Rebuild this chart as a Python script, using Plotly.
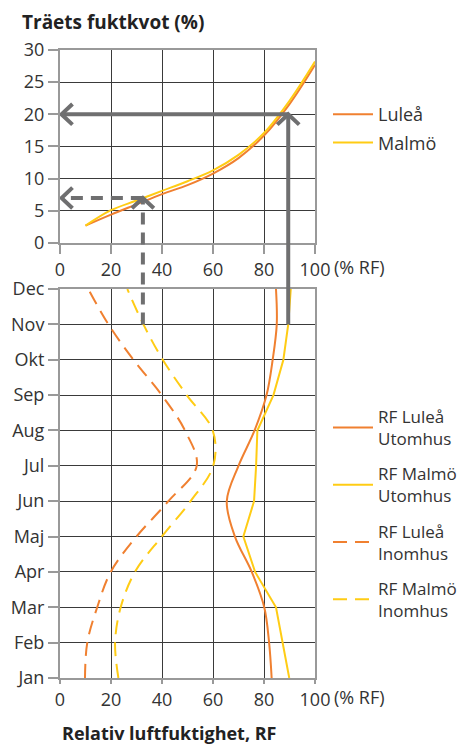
import plotly.graph_objects as go

# ---------------- data ----------------
rf_sorption = [10, 20, 30, 40, 50, 60, 70, 80, 90, 100]
mc_lulea = [2.7, 4.4, 6.0, 7.6, 9.0, 10.8, 13.2, 16.7, 21.6, 27.7]
mc_malmo = [2.7, 5.1, 6.6, 8.1, 9.6, 11.3, 13.7, 17.1, 22.1, 28.2]

months = ["Jan", "Feb", "Mar", "Apr", "Maj", "Jun", "Jul", "Aug", "Sep", "Okt", "Nov", "Dec"]
rf_lulea_ute = [83, 82, 80.1, 75.2, 68.6, 65.4, 70, 76.3, 81, 83.4, 85, 84.7]
rf_malmo_ute = [89.9, 87.3, 84.7, 76.5, 71.9, 76.1, 76.9, 77.4, 83.7, 87.6, 89.5, 90.5]
rf_lulea_inne = [9.8, 10.7, 14.6, 19.9, 30, 42.5, 53.6, 49, 39.9, 28.8, 19, 11.1]
rf_malmo_inne = [22.9, 21.6, 23.8, 29.4, 39.9, 51.2, 60.1, 59.9, 49.7, 40.3, 32.7, 26.4]

x_ticks = [0, 20, 40, 60, 80, 100]
mc_ticks = [0, 5, 10, 15, 20, 25, 30]

# reading examples (arrows)
read_rf_out, read_mc_out = 89.5, 20
read_rf_in, read_mc_in = 32.5, 7
read_month = "Nov"

# ---------------- style ----------------
ORANGE = "#F08030"
YELLOW = "#FFCC14"
ARROW = "#6F6F70"
GRID = "#3a3a3a"
AXIS = "#999999"
FONT = "Open Sans"
TXT = "#333333"

# the page body has an 8px margin, so the figure is 8px smaller
W, H = 459, 739
ML, MR, MT, MB = 52, 152, 42, 69
PH = H - MT - MB
PW = W - ML - MR
top_dom = [0.6927, 1.0]
bot_dom = [0.0, 0.6194]

fig = go.Figure()

fig.add_trace(go.Scatter(x=rf_sorption, y=mc_lulea, name="Luleå", mode="lines",
                         line=dict(color=ORANGE, width=2, shape="spline"),
                         xaxis="x", yaxis="y", legend="legend", legendgroup="a"))
fig.add_trace(go.Scatter(x=rf_sorption, y=mc_malmo, name="Malmö", mode="lines",
                         line=dict(color=YELLOW, width=2, shape="spline"),
                         xaxis="x", yaxis="y", legend="legend", legendgroup="b"))

yidx = list(range(len(months)))
series = [
    ("RF Luleå<br>Utomhus", rf_lulea_ute, ORANGE, "solid", "spline"),
    ("RF Malmö<br>Utomhus", rf_malmo_ute, YELLOW, "solid", "linear"),
    ("RF Luleå<br>Inomhus", rf_lulea_inne, ORANGE, "14px,8px", "spline"),
    ("RF Malmö<br>Inomhus", rf_malmo_inne, YELLOW, "14px,8px", "spline"),
]
for i, (nm, vals, col, dash, shp) in enumerate(series):
    fig.add_trace(go.Scatter(x=vals, y=yidx, name=nm, mode="lines",
                             line=dict(color=col, width=2, dash=dash, shape=shp),
                             xaxis="x2", yaxis="y2", legend="legend2",
                             legendgroup=f"g{i}"))

axis_common = dict(showgrid=True, gridcolor=GRID, gridwidth=1, showline=True,
                   linecolor=AXIS, linewidth=2, mirror=True, zeroline=False,
                   ticks="outside", tickcolor=AXIS, tickwidth=2, automargin=False,
                   tickfont=dict(family=FONT, size=18, color=TXT))

fig.update_layout(
    width=W, height=H, margin=dict(l=ML, r=MR, t=MT, b=MB, autoexpand=False),
    paper_bgcolor="white", plot_bgcolor="white",
    xaxis=dict(domain=[0, 1], range=[0, 100], tickvals=x_ticks, anchor="y",
               ticklen=9, **axis_common),
    yaxis=dict(domain=top_dom, range=[0, 30], tickvals=mc_ticks, anchor="x",
               ticklen=10, **axis_common),
    xaxis2=dict(domain=[0, 1], range=[0, 100], tickvals=x_ticks, anchor="y2",
                ticklen=4, **axis_common),
    yaxis2=dict(domain=bot_dom, range=[0, len(months) - 1], tickvals=yidx,
                ticktext=months, anchor="x2", ticklen=10, **axis_common),
    legend=dict(x=1 + 13 / PW, y=1 - 46 / PH, xanchor="left", yanchor="top",
                font=dict(family=FONT, size=18, color=TXT), itemwidth=40,
                bgcolor="rgba(0,0,0,0)", tracegroupgap=2),
    legend2=dict(x=1 + 13 / PW, y=1 - 349 / PH, xanchor="left", yanchor="top",
                 font=dict(family=FONT, size=17, color=TXT), itemwidth=40,
                 bgcolor="rgba(0,0,0,0)", tracegroupgap=10),
    showlegend=True,
)

# helpers to map data -> paper (via the axis domains/ranges)
def top_paper(v):
    return top_dom[0] + (v - 0) / 30 * (top_dom[1] - top_dom[0])

def bot_paper(i):
    return bot_dom[0] + i / (len(months) - 1) * (bot_dom[1] - bot_dom[0])

mi = months.index(read_month)
chev_dx, chev_dy = 4.3, 1.6


def add_reading(rf, mc, dash):
    line = dict(color=ARROW, width=4, dash=dash)
    fig.add_shape(type="line", xref="x", yref="paper", x0=rf, x1=rf,
                  y0=bot_paper(mi), y1=top_paper(mc), line=line)
    fig.add_shape(type="line", xref="x", yref="y", x0=rf, x1=0.6, y0=mc, y1=mc, line=line)
    solid = dict(color=ARROW, width=4)
    fig.add_shape(type="path", xref="x", yref="y",
                  path=f"M {rf - chev_dx} {mc - chev_dy} L {rf} {mc} L {rf + chev_dx} {mc - chev_dy}",
                  line=solid)
    fig.add_shape(type="path", xref="x", yref="y",
                  path=f"M {0.6 + chev_dx} {mc + chev_dy} L 0.6 {mc} L {0.6 + chev_dx} {mc - chev_dy}",
                  line=solid)


add_reading(read_rf_out, read_mc_out, "solid")
add_reading(read_rf_in, read_mc_in, "12px,8px")

# titles / unit labels
fig.add_annotation(text="<b>Träets fuktkvot (%)</b>", xref="paper", yref="paper",
                   x=-40 / PW, y=1.0 + 28 / PH, xanchor="left", yanchor="middle",
                   showarrow=False, font=dict(family=FONT, size=19, color="#222"))
fig.add_annotation(text="<b>Relativ luftfuktighet, RF</b>", xref="paper", yref="paper",
                   x=(169 - 60) / PW, y=-55 / PH, xanchor="center", yanchor="middle",
                   showarrow=False, font=dict(family=FONT, size=18, color="#222"))
for ypos, sh in ((top_dom[0], -24), (bot_dom[0], -19)):
    fig.add_annotation(text="(% RF)", xref="paper", yref="paper",
                       x=(332 - 60) / PW, y=ypos, yshift=sh,
                       xanchor="left", yanchor="middle", showarrow=False,
                       font=dict(family=FONT, size=18, color=TXT))

fig.write_html("out.html")
